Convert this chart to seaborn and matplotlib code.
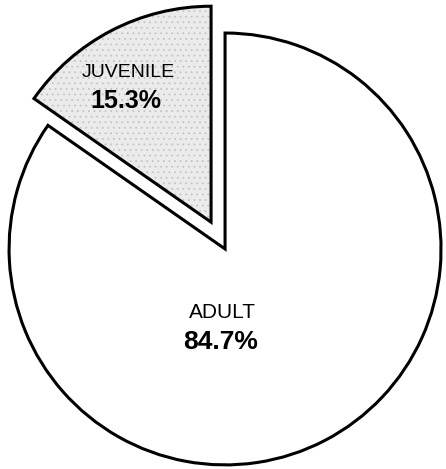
import matplotlib
matplotlib.use('Agg')
import matplotlib.pyplot as plt
import seaborn as sns

# 数据
groups = ['JUVENILE', 'ADULT']
shares = [15.3, 84.7]
explode = [0.14, 0.0]

sns.set_style('white')
plt.rcParams['font.family'] = ['Liberation Sans', 'DejaVu Sans']
plt.rcParams['text.color'] = 'black'
plt.rcParams['hatch.color'] = '#c4c4c4'
plt.rcParams['hatch.linewidth'] = 0.6

fig = plt.figure(figsize=(4.46, 4.69), dpi=100)
ax = fig.add_axes([0, 0, 1, 1])

colors = ['#ebebeb', '#ffffff']
wedges, _ = ax.pie(shares, explode=explode, startangle=90, counterclock=True,
                   colors=colors,
                   wedgeprops={'edgecolor': 'black', 'linewidth': 2.2})
# 点状底纹
wedges[0].set_hatch('...')
wedges[0]._hatch_color = matplotlib.colors.to_rgba('#c4c4c4')

ax.set_xlim(-1.042, 1.023)
ax.set_ylim(-1.019, 1.153)
ax.set_aspect('auto')
ax.axis('off')

# 标签
ax.text(-0.449, 0.815, groups[0], ha='center', va='center', fontsize=14, zorder=5)
ax.text(-0.458, 0.685, f'{shares[0]}%', ha='center', va='center', fontsize=18,
        fontweight='bold', zorder=5)
ax.text(-0.014, -0.292, groups[1], ha='center', va='center', fontsize=15)
ax.text(-0.019, -0.431, f'{shares[1]}%', ha='center', va='center', fontsize=19,
        fontweight='bold')

fig.savefig('out.png', dpi=100)
